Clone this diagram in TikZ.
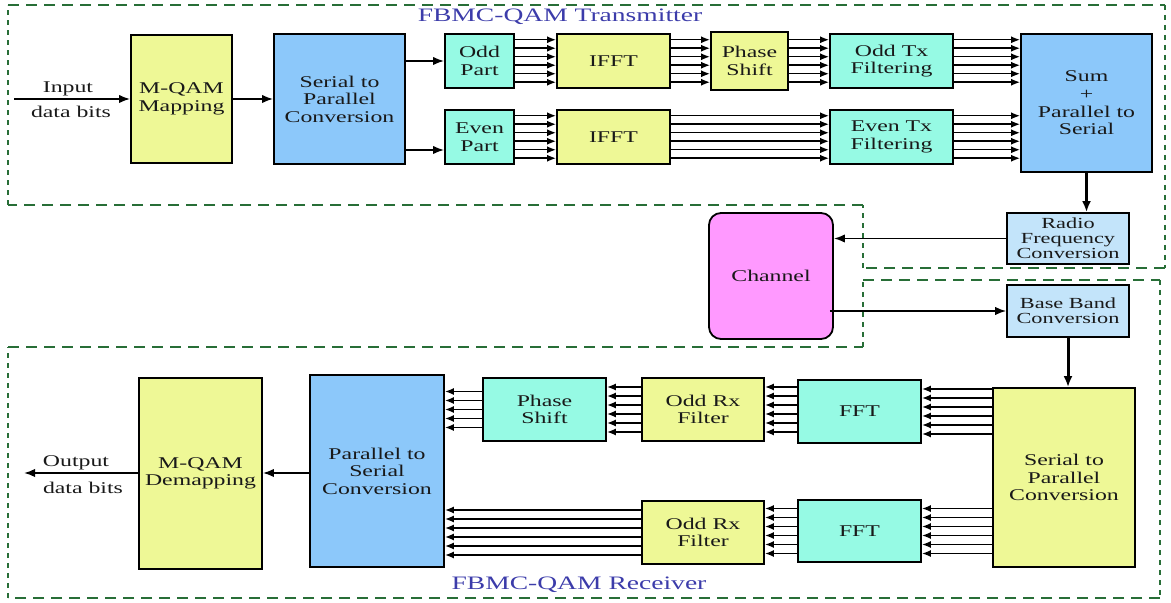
\documentclass[tikz,border=0pt]{standalone}
\usepackage{fontspec}
\setmainfont[FakeStretch=1.45]{Liberation Serif}
\usetikzlibrary{arrows.meta}
\definecolor{cyel}{RGB}{238,248,150}
\definecolor{cblue}{RGB}{140,200,250}
\definecolor{caqua}{RGB}{150,250,228}
\definecolor{clblue}{RGB}{195,228,250}
\definecolor{cmag}{RGB}{255,153,255}
\definecolor{cgreen}{RGB}{40,110,55}
\definecolor{ctitle}{RGB}{60,60,170}
\definecolor{ctext}{RGB}{25,25,25}
% bundle of 6 parallel arrows, left to right: from #1 to #2, heights taken from #3
\newcommand{\bundleR}[3]{%
  \foreach \o in {-10.625,-6.375,-2.125,2.125,6.375,10.625}{%
    \path ([yshift=\o pt]#3.east) coordinate (t);
    \draw[multi] (t -| #1.east) -- (t -| #2.west);}}
% bundle of 6 parallel arrows, right to left: from #1 to #2, heights taken from #3
\newcommand{\bundleL}[3]{%
  \foreach \o in {-11.25,-6.75,-2.25,2.25,6.75,11.25}{%
    \path ([yshift=\o pt]#3.east) coordinate (t);
    \draw[multi] (t -| #1.west) -- (t -| #2.east);}}
\begin{document}
\begin{tikzpicture}[x=0.5pt,y=-0.5pt,
  blk/.style={draw=black, line width=0.9pt, align=center, inner sep=1pt, text=ctext,
              font=\fontsize{8.2}{8.8}\selectfont},
  yel/.style={blk, fill=cyel},
  blu/.style={blk, fill=cblue},
  aqu/.style={blk, fill=caqua},
  lbl/.style={blk, fill=clblue, font=\fontsize{7.7}{7.4}\selectfont},
  bx/.style 2 args={minimum width=#1pt, minimum height=#2pt},
  multi/.style={line width=0.75pt, -{Latex[length=4.5pt,width=3.5pt]}},
  arr/.style={line width=0.9pt, -{Latex[length=5.5pt,width=4.2pt]}},
  bigarr/.style={line width=1.5pt, -{Latex[length=5.5pt,width=4.5pt]}},
  frameh/.style={cgreen, line width=0.8pt, dash pattern=on 5.5pt off 3.5pt},
  framev/.style={cgreen, line width=1.1pt, dash pattern=on 2.5pt off 2.5pt},
  title/.style={text=ctitle, font=\fontsize{9.5}{10}\selectfont},
  side/.style={text=ctext, font=\fontsize{8.2}{8.8}\selectfont, inner sep=0.5pt}
]
\useasboundingbox (0,0) rectangle (1171,603);

% ---------- dashed frames ----------
\draw[frameh] (8,5) -- (1165,5);
\draw[framev] (1165,5) -- (1165,268);
\draw[frameh] (1165,268) -- (863,268);
\draw[framev] (863,268) -- (863,205);
\draw[frameh] (863,205) -- (8,205);
\draw[framev] (8,205) -- (8,5);

\draw[frameh] (863,280) -- (1160,280);
\draw[framev] (1160,280) -- (1160,598);
\draw[frameh] (1160,598) -- (8,598);
\draw[framev] (8,598) -- (8,347);
\draw[frameh] (8,347) -- (863,347);
\draw[framev] (863,347) -- (863,280);

\node[title] (ttx) at (560,17) {FBMC-QAM Transmitter};
\node[title] (trx) at (579,585) {FBMC-QAM Receiver};

% ---------- transmitter ----------
\node[yel, bx={50.5}{64}] (map) at (181.5,99) {M-QAM\\Mapping};
\node[blu, bx={65.5}{65}] (s2p) at (339.5,99) {Serial to\\Parallel\\Conversion};
\node[aqu, bx={34.5}{27}] (odd) at (479.5,61) {Odd\\Part};
\node[aqu, bx={34.5}{27}] (even) at (479.5,137) {Even\\Part};
\node[yel, bx={56.5}{27}] (ifft1) at (613.5,61) {IFFT};
\node[yel, bx={56.5}{27}] (ifft2) at (613.5,137) {IFFT};
\node[yel, bx={38.5}{29}] (phase) at (749.5,61) {Phase\\Shift};
\node[aqu, bx={61.5}{27}] (oddtx) at (891.5,61) {Odd Tx\\Filtering};
\node[aqu, bx={61.5}{27}] (eventx) at (891.5,137) {Even Tx\\Filtering};
\node[blu, bx={65.5}{69}] (sum) at (1086.5,103) {Sum\\+\\Parallel to\\Serial};
\node[lbl, bx={61}{25.5}] (radio) at (1068,238.5) {Radio\\Frequency\\Conversion};

% ---------- channel ----------
\node[blk, fill=cmag, rounded corners=6pt, bx={62}{63}] (chan) at (771,276) {Channel};
\node[lbl, bx={61}{26}] (bb) at (1068,311) {Base Band\\Conversion};

% ---------- receiver ----------
\node[yel, bx={61.5}{95.5}] (demap) at (200.5,473.5) {M-QAM\\Demapping};
\node[blu, bx={67}{96}] (p2s) at (377,471) {Parallel to\\Serial\\Conversion};
\node[aqu, bx={61.5}{31.5}] (phrx) at (544.5,409.5) {Phase\\Shift};
\node[yel, bx={61}{31.5}] (oddrx1) at (703,409.5) {Odd Rx\\Filter};
\node[aqu, bx={61.5}{31.5}] (fft1) at (859.5,411.5) {FFT};
\node[yel, bx={71}{89.5}] (s2prx) at (1064,477.5) {Serial to\\Parallel\\Conversion};
\node[yel, bx={61}{31.5}] (oddrx2) at (703,532.5) {Odd Rx\\Filter};
\node[aqu, bx={61.5}{31}] (fft2) at (859.5,531) {FFT};

% ---------- input / output ----------
\coordinate (inp) at (14,99);
\coordinate (outp) at (24,473);
\draw[arr] (inp) -- (inp -| map.west);
\node[side, fill=white] (inlbl) at (68,89) {Input};
\node[side] (inlbl2) at (71,112) {data bits};
\draw[arr] (demap.west |- outp) -- (outp);
\node[side, fill=white] (outlbl) at (76,463) {Output};
\node[side] (outlbl2) at (83,488) {data bits};

% ---------- transmitter connectors ----------
\draw[arr] (map.east |- s2p.west) -- (s2p.west);
\draw[arr] (s2p.east |- odd.west) -- (odd.west);
\path ([yshift=-6.5pt]even.west) coordinate (ein);
\draw[arr] (ein -| s2p.east) -- (ein);
\bundleR{odd}{ifft1}{odd}
\bundleR{ifft1}{phase}{ifft1}
\bundleR{phase}{oddtx}{phase}
\bundleR{oddtx}{sum}{oddtx}
\bundleR{even}{ifft2}{even}
\bundleR{ifft2}{eventx}{ifft2}
\bundleR{eventx}{sum}{eventx}
\draw[bigarr] (sum.south) -- (sum.south |- radio.north);
\draw[arr] (radio.west) -- (radio.west -| chan.east);
\draw[line width=0.75pt, -{Latex[length=5.5pt,width=4.2pt]}] ([xshift=-2pt]chan.east |- bb.west) -- (bb.west);
\draw[bigarr] (bb.south) -- (bb.south |- s2prx.north);

% ---------- receiver connectors ----------
\bundleL{s2prx}{fft1}{fft1}
\bundleL{fft1}{oddrx1}{oddrx1}
\bundleL{oddrx1}{phrx}{phrx}
\foreach \o in {-9,-4.5,0,4.5,9}{%
  \path ([yshift=\o pt]phrx.west) coordinate (t);
  \draw[multi] (t) -- (t -| p2s.east);}
\bundleL{s2prx}{fft2}{fft2}
\bundleL{fft2}{oddrx2}{fft2}
\bundleL{oddrx2}{p2s}{oddrx2}
\draw[arr] (p2s.west |- outp) -- (demap.east |- outp);
\end{tikzpicture}
\end{document}
